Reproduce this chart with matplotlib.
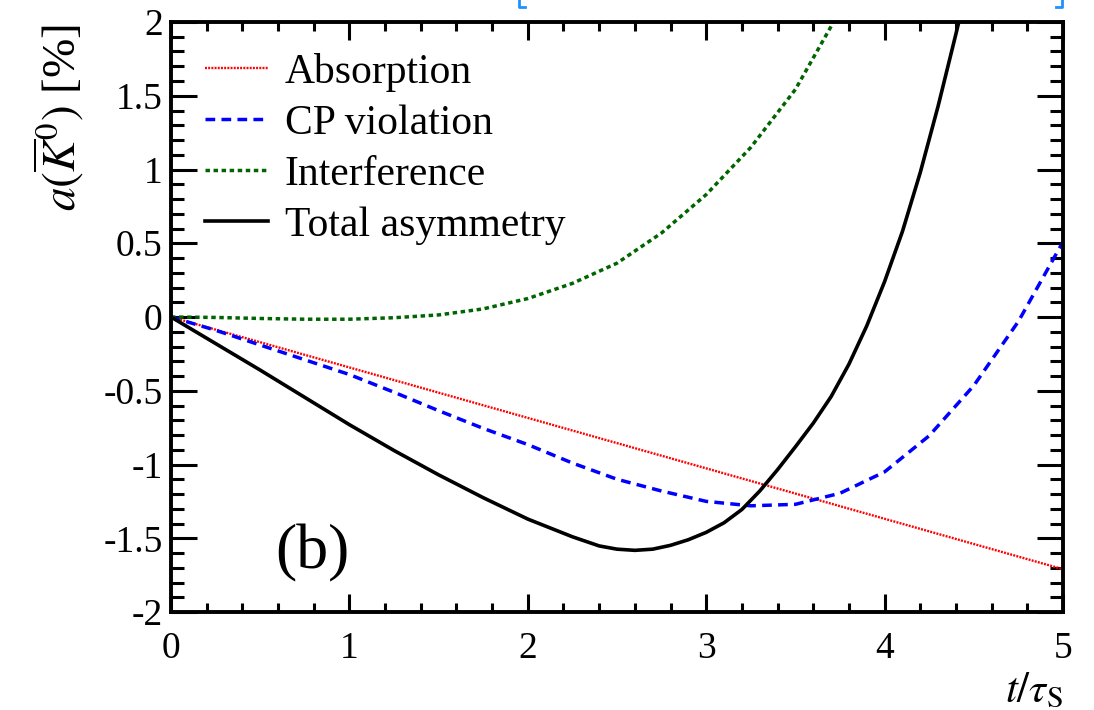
import numpy as np
import matplotlib
matplotlib.use("Agg")
import matplotlib.pyplot as plt
from matplotlib.lines import Line2D
from matplotlib.ticker import MultipleLocator, FixedLocator

plt.rcParams['font.family'] = ['Liberation Serif', 'DejaVu Serif']
plt.rcParams['mathtext.fontset'] = 'stix'
plt.rcParams['lines.scale_dashes'] = False

# ---- data ----
t_abs = [0.0, 5.0]
absorption = [0.0, -1.71]

t_cp = [0.0, 0.25, 0.5, 0.75, 1.0, 1.25, 1.5, 1.75, 2.0, 2.25, 2.5, 2.75,
        3.0, 3.25, 3.5, 3.75, 4.0, 4.25, 4.5, 4.75, 5.0]
cp_violation = [0.0, -0.09, -0.19, -0.29, -0.39, -0.51, -0.635, -0.755, -0.865,
                -0.99, -1.10, -1.18, -1.25, -1.28, -1.27, -1.195, -1.05, -0.805,
                -0.465, -0.03, 0.51]

t_int = [0.0, 0.25, 0.5, 0.75, 1.0, 1.25, 1.5, 1.75, 2.0, 2.25, 2.5, 2.75,
         3.0, 3.25, 3.5, 3.7, 3.75]
interference = [0.0, -0.003, -0.01, -0.015, -0.015, -0.005, 0.014, 0.055, 0.125,
                0.228, 0.365, 0.57, 0.83, 1.15, 1.543, 1.97, 2.08]

t_tot = [0.0, 0.25, 0.5, 0.75, 1.0, 1.25, 1.5, 1.75, 2.0, 2.25, 2.4, 2.5, 2.6,
         2.7, 2.8, 2.9, 3.0, 3.1, 3.2, 3.3, 3.4, 3.5, 3.6, 3.7, 3.8, 3.9, 4.0,
         4.1, 4.2, 4.3, 4.4, 4.45]
total = [0.0, -0.18, -0.36, -0.545, -0.73, -0.905, -1.07, -1.225, -1.37, -1.49,
         -1.552, -1.574, -1.582, -1.574, -1.548, -1.51, -1.46, -1.395, -1.305,
         -1.18, -1.035, -0.88, -0.72, -0.54, -0.32, -0.06, 0.24, 0.58, 0.98,
         1.43, 1.92, 2.17]

labels = ["Absorption", "CP violation", "Interference", "Total asymmetry"]
xticks = [0, 1, 2, 3, 4, 5]
xticklabels = ["0", "1", "2", "3", "4", "5"]
yticks = [-2, -1.5, -1, -0.5, 0, 0.5, 1, 1.5, 2]
yticklabels = ["-2", "-1.5", "-1", "-0.5", "0", "0.5", "1", "1.5", "2"]

# ---- figure ----
W, H = 1094, 710
fig = plt.figure(figsize=(W / 100, H / 100), dpi=100)
L, R, B, T = 171, 1063, 612, 22
ax = fig.add_axes([L / W, 1 - B / H, (R - L) / W, (B - T) / H])

ax.plot(t_abs, absorption, color='#ff0000', lw=1.7, dashes=(1.4, 0.9))
ax.plot(t_cp, cp_violation, color='#0000ff', lw=2.5, dashes=(7.0, 4.5))
ax.plot(t_int, interference, color='#006400', lw=2.5, dashes=(3.2, 2.6))
ax.plot(t_tot, total, color='black', lw=2.6, solid_joinstyle='round')

ax.set_xlim(0, 5)
ax.set_ylim(-2, 2)

ax.xaxis.set_major_locator(FixedLocator(xticks))
ax.set_xticklabels(xticklabels)
ax.xaxis.set_minor_locator(MultipleLocator(0.2))
ax.yaxis.set_major_locator(FixedLocator(yticks))
ax.set_yticklabels(yticklabels)
ax.yaxis.set_minor_locator(MultipleLocator(0.1))

ax.tick_params(axis='both', which='both', direction='in', top=True, right=True,
               width=2.2, colors='black', labelsize=27)
ax.tick_params(axis='x', which='major', length=13, pad=14)
ax.tick_params(axis='x', which='minor', length=6.5)
ax.tick_params(axis='y', which='major', length=19, pad=6)
ax.tick_params(axis='y', which='minor', length=9.5)
for sp in ax.spines.values():
    sp.set_linewidth(2.8)

# legend
handles = [
    Line2D([], [], color='#ff0000', lw=1.7, dashes=(1.4, 0.9)),
    Line2D([], [], color='#0000ff', lw=2.5, dashes=(7.0, 4.5)),
    Line2D([], [], color='#006400', lw=2.5, dashes=(3.2, 2.6)),
    Line2D([], [], color='black', lw=2.6),
]
leg = ax.legend(handles, labels, loc='upper left',
                bbox_to_anchor=((205 - L) / (R - L), 1 - (53 - T) / (B - T)),
                frameon=False, fontsize=30, handlelength=1.5, handletextpad=0.42,
                labelspacing=0.3, borderpad=0, borderaxespad=0)

# (b) label
ax.text(0.79, -1.60, "(b)", fontsize=46, ha='center', va='center')

# axis titles
fig.text(86 / W, 1 - 24 / H, r'$a(\overline{K}^{0})$ [%]', rotation=90,
         ha='right', va='top', fontsize=34)
fig.text(1063 / W, (H - 702) / H, r'$t/\tau_{\mathrm{S}}$', ha='right',
         va='baseline', fontsize=31)

# blue brackets cropped at top (viewer highlight)
for xs in ([525, 519, 519], [1056, 1062, 1062]):
    ys = [7, 7, 0]
    fig.add_artist(Line2D([x / W for x in xs], [1 - y / H for y in ys],
                          color='#1e90ff', lw=2.0, transform=fig.transFigure))

fig.savefig("out.png", dpi=100)
